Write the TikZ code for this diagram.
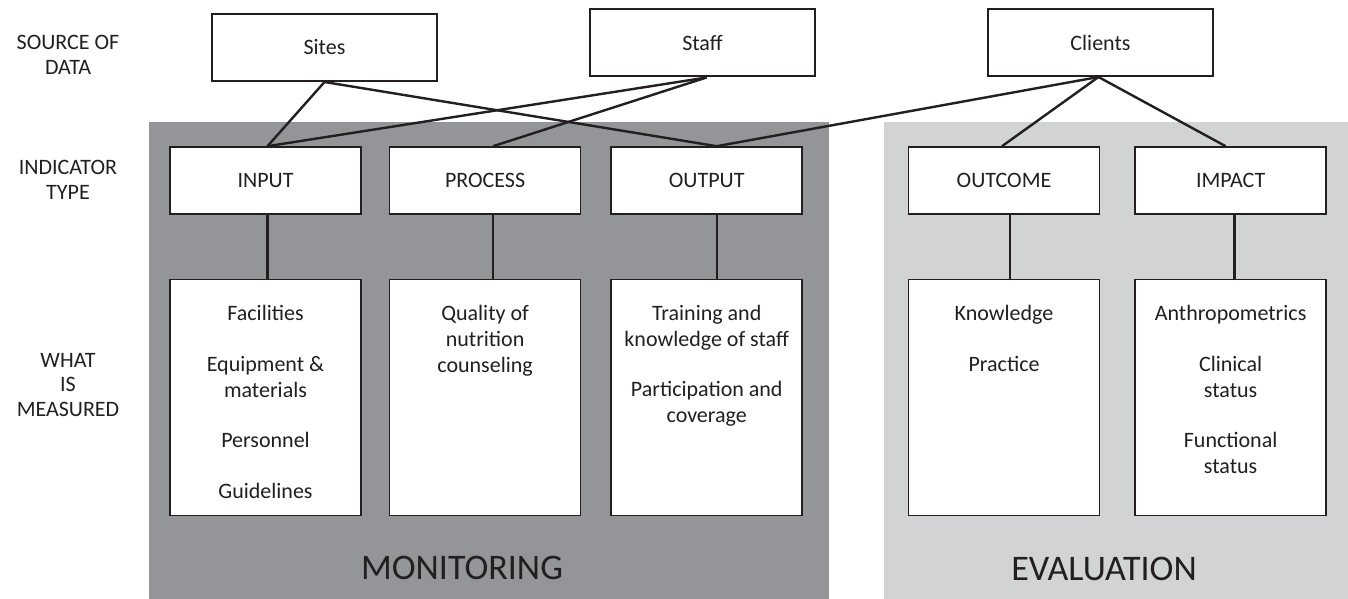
\documentclass[tikz,border=0pt]{standalone}
\usepackage{fontspec}
\setmainfont{Carlito}
\usetikzlibrary{positioning}
\definecolor{monigray}{RGB}{147,149,152}
\definecolor{evalgray}{RGB}{209,211,212}
\definecolor{inkblack}{RGB}{35,31,32}

\begin{document}
\begin{tikzpicture}[x=0.5pt,y=-0.5pt,
    every node/.style={font=\fontsize{11}{13}\selectfont, text=inkblack},
    srcbox/.style={draw=inkblack, line width=1pt, fill=white, minimum width=112.5pt, minimum height=33.5pt, inner sep=0pt},
    typebox/.style={draw=inkblack, line width=0.8pt, fill=white, minimum width=95.5pt, minimum height=33.5pt, inner sep=0pt},
    listbox/.style={typebox, minimum height=118pt},
    listtext/.style={align=center, inner sep=0pt},
    rowlabel/.style={align=center, font=\fontsize{11}{12.4}\selectfont},
    area/.style={font=\fontsize{18}{20}\selectfont},
    link/.style={draw=inkblack, line width=1.2pt}]
    \useasboundingbox (0,0) rectangle (1348,599);
    \fill[monigray] (149,122) rectangle (829,599);
    \fill[evalgray] (884,122) rectangle (1348,599);

    \node[rowlabel] (srclabel) at (68,54.5) {SOURCE OF\\DATA};
    \node[rowlabel] (typelabel) at (68,179.5) {INDICATOR\\TYPE};
    \node[rowlabel] (whatlabel) at (68,385) {WHAT\\IS\\MEASURED};

    \node[srcbox] (sites) at (324.5,47.5) {Sites};
    \node[srcbox] (staff) at (702.5,43) {Staff};
    \node[srcbox] (clients) at (1100.5,42.5) {Clients};

    \node[typebox] (input) at (265.5,180.5) {INPUT};
    \node[typebox, right=13.5pt of input] (process) {PROCESS};
    \node[typebox, right=14.5pt of process] (output) {OUTPUT};
    \node[typebox] (outcome) at (1004,180.5) {OUTCOME};
    \node[typebox, right=17pt of outcome] (impact) {IMPACT};

    \node[listbox, below=32pt of input] (inputlist) {};
    \node[listbox, below=32pt of process] (processlist) {};
    \node[listbox, below=32pt of output] (outputlist) {};
    \node[listbox, below=32pt of outcome] (outcomelist) {};
    \node[listbox, below=32pt of impact] (impactlist) {};

    \node[listtext, below=13pt of inputlist.north] (inputitems)
        {Facilities\\[12.5pt]Equipment \&\\materials\\[12pt]Personnel\\[12.5pt]Guidelines};
    \node[listtext, below=13pt of processlist.north] (processitems)
        {Quality of\\nutrition\\counseling};
    \node[listtext, below=13pt of outputlist.north] (outputitems)
        {Training and\\knowledge of staff\\[12pt]Participation and\\coverage};
    \node[listtext, below=13pt of outcomelist.north] (outcomeitems)
        {Knowledge\\[12.5pt]Practice};
    \node[listtext, below=13pt of impactlist.north] (impactitems)
        {Anthropometrics\\[12.5pt]Clinical\\status\\[12pt]Functional\\status};

    \draw[link] (sites.south) -- ([xshift=1pt]input.north);
    \draw[link] (sites.south) -- ([xshift=5pt]output.north);
    \draw[link] ([xshift=2pt]staff.south) -- ([xshift=1pt]input.north);
    \draw[link] ([xshift=2pt]staff.south) -- ([xshift=4pt]process.north);
    \draw[link] ([xshift=-1pt]clients.south) -- ([xshift=5pt]output.north);
    \draw[link] ([xshift=-1pt]clients.south) -- ([xshift=-1pt]outcome.north);
    \draw[link] ([xshift=-1pt]clients.south) -- ([xshift=-2.5pt]impact.north);

    \draw[link] ([xshift=1pt]input.south) -- ([xshift=1pt]inputlist.north);
    \draw[link] ([xshift=4pt]process.south) -- ([xshift=4pt]processlist.north);
    \draw[link] ([xshift=5pt]output.south) -- ([xshift=5pt]outputlist.north);
    \draw[link] ([xshift=3pt]outcome.south) -- ([xshift=3pt]outcomelist.north);
    \draw[link] ([xshift=2pt]impact.south) -- ([xshift=2pt]impactlist.north);

    \node[area] (monlabel) at (462,568) {MONITORING};
    \node[area] (evallabel) at (1104,569) {EVALUATION};
\end{tikzpicture}
\end{document}
